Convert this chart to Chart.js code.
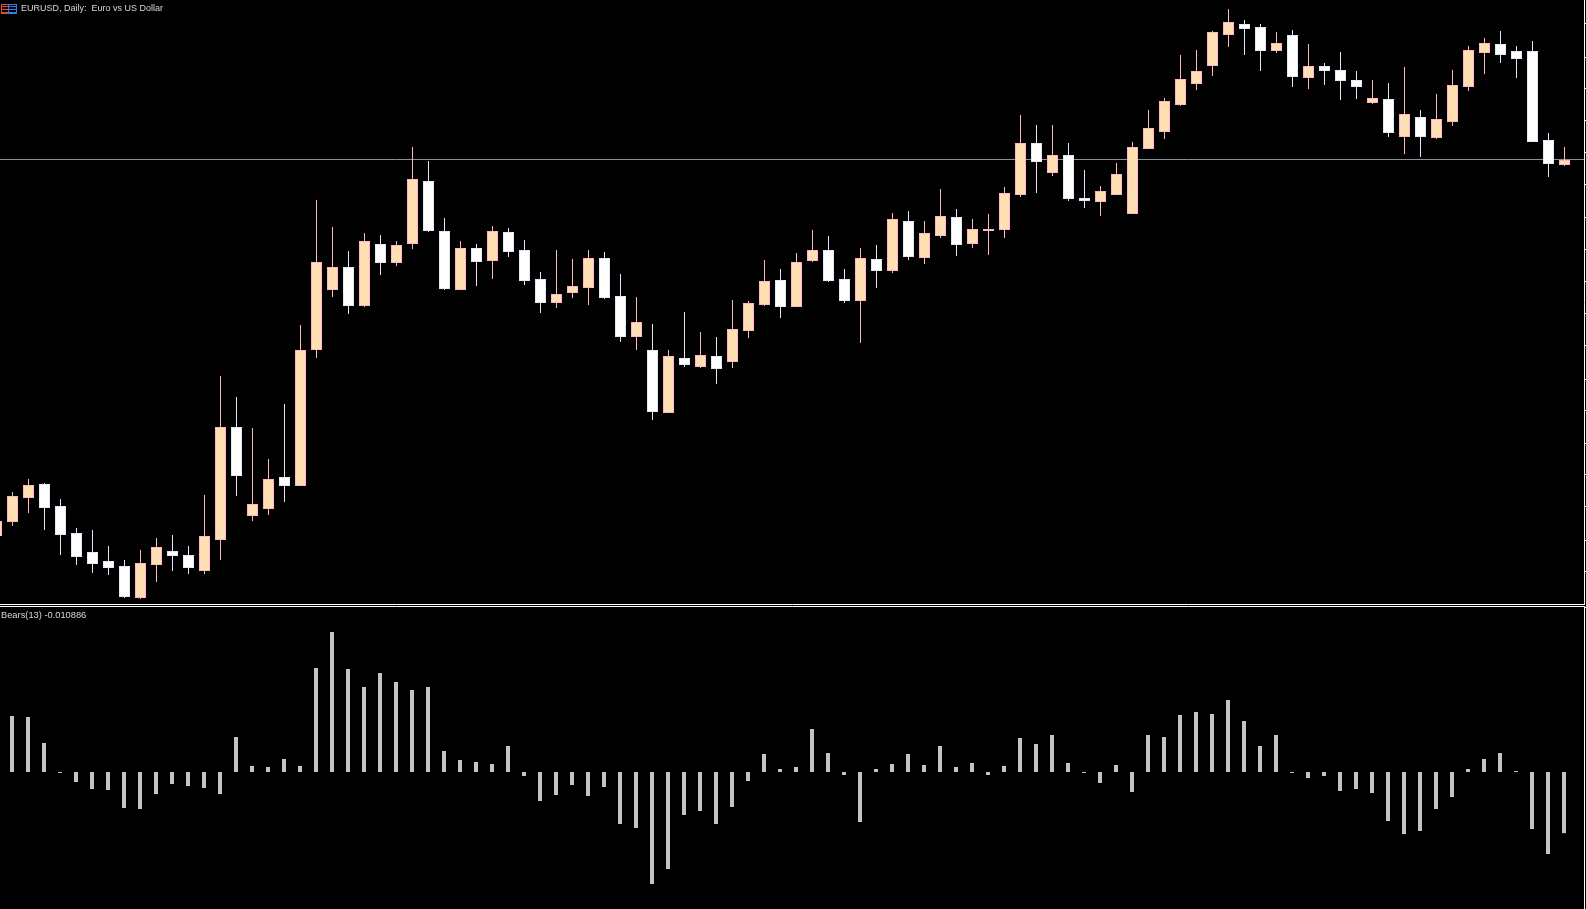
<!DOCTYPE html>
<html>
<head>
<meta charset="utf-8">
<title>EURUSD, Daily</title>
<script src="https://cdn.jsdelivr.net/npm/chart.js@4/dist/chart.umd.min.js"></script>
<style>
    html, body { margin: 0; padding: 0; background: #000; overflow: hidden; }
    canvas { position: absolute; left: 0; display: block; }
    #priceCanvas { top: 0; }
    #bearsCanvas { top: 605px; }
    .label { position: absolute; color: #d8d8d8; font-family: "Liberation Sans", sans-serif; white-space: pre; }
    #chartTitle { left: 21px; top: 3px; font-size: 9px; }
    #bearsTitle { left: 1px; top: 610px; font-size: 9.3px; }
    .icon { position: absolute; top: 4px; height: 8px; width: 6px; border: 1px solid; }
    #iconRed { left: 1px; border-color: #e0483c; background: repeating-linear-gradient(#000 0 1px, #e0483c 1px 2px, #000 2px 3px); }
    #iconBlue { left: 8px; width: 7px; border-color: #2f7fe8; background: repeating-linear-gradient(#000 0 1px, #2f7fe8 1px 2px, #000 2px 3px); }
</style>
</head>
<body>
<canvas id="priceCanvas" width="1586" height="605"></canvas>
<canvas id="bearsCanvas" width="1586" height="304"></canvas>
<span class="icon" id="iconRed"></span><span class="icon" id="iconBlue"></span>
<span class="label" id="chartTitle">EURUSD, Daily:  Euro vs US Dollar</span>
<span class="label" id="bearsTitle">Bears(13) -0.010886</span>

<script>
const opens = [1.1464,1.1478,1.1502,1.1516,1.1494,1.1467,1.1448,1.1439,1.1434,1.1402,
    1.1435,1.1449,1.1445,1.1429,1.1460,1.1573,1.1484,1.1491,1.1523,1.1514,
    1.1650,1.1710,1.1733,1.1694,1.1756,1.1737,1.1756,1.1819,1.1769,1.1710,
    1.1752,1.1739,1.1768,1.1750,1.1721,1.1697,1.1707,1.1712,1.1742,1.1704,
    1.1663,1.1650,1.1587,1.1642,1.1633,1.1644,1.1638,1.1669,1.1695,1.1720,
    1.1693,1.1739,1.1750,1.1721,1.1699,1.1741,1.1729,1.1779,1.1742,1.1764,
    1.1783,1.1756,1.1769,1.1770,1.1805,1.1857,1.1827,1.1845,1.1802,1.1798,
    1.1805,1.1786,1.1851,1.1868,1.1895,1.1916,1.1934,1.1965,1.1976,1.1973,
    1.1949,1.1965,1.1922,1.1934,1.1930,1.1920,1.1897,1.1901,1.1863,1.1883,
    1.1862,1.1878,1.1913,1.1947,1.1956,1.1949,1.1949,1.1860,1.1835]
const closes = [1.1479,1.1504,1.1515,1.1492,1.1465,1.1443,1.1436,1.1432,1.1403,1.1437,
    1.1453,1.1444,1.1432,1.1464,1.1573,1.1524,1.1496,1.1521,1.1514,1.1650,
    1.1738,1.1733,1.1694,1.1759,1.1737,1.1755,1.1821,1.1769,1.1711,1.1752,
    1.1738,1.1769,1.1748,1.1719,1.1697,1.1706,1.1714,1.1742,1.1702,1.1663,
    1.1678,1.1588,1.1644,1.1635,1.1645,1.1631,1.1671,1.1697,1.1719,1.1693,
    1.1738,1.1750,1.1719,1.1699,1.1742,1.1729,1.1781,1.1743,1.1767,1.1784,
    1.1755,1.1771,1.1771,1.1807,1.1857,1.1838,1.1845,1.1801,1.1799,1.1809,
    1.1826,1.1853,1.1872,1.1899,1.1921,1.1929,1.1968,1.1978,1.1971,1.1949,
    1.1957,1.1923,1.1934,1.1929,1.1919,1.1913,1.1902,1.1867,1.1886,1.1863,
    1.1881,1.1915,1.1950,1.1957,1.1945,1.1941,1.1858,1.1836,1.1840]
const highs = [1.1485,1.1508,1.1521,1.1517,1.1501,1.1472,1.1470,1.1454,1.1440,1.1450,
    1.1462,1.1465,1.1454,1.1505,1.1624,1.1603,1.1572,1.1541,1.1596,1.1675,
    1.1800,1.1773,1.1749,1.1767,1.1765,1.1759,1.1853,1.1839,1.1782,1.1759,
    1.1756,1.1774,1.1772,1.1760,1.1728,1.1750,1.1741,1.1750,1.1748,1.1726,
    1.1703,1.1676,1.1650,1.1688,1.1668,1.1663,1.1700,1.1699,1.1740,1.1731,
    1.1747,1.1770,1.1764,1.1731,1.1752,1.1755,1.1787,1.1789,1.1779,1.1811,
    1.1791,1.1781,1.1786,1.1813,1.1885,1.1875,1.1875,1.1857,1.1830,1.1814,
    1.1837,1.1858,1.1890,1.1902,1.1945,1.1950,1.1969,1.1991,1.1980,1.1976,
    1.1968,1.1970,1.1956,1.1937,1.1948,1.1929,1.1920,1.1917,1.1933,1.1890,
    1.1906,1.1930,1.1954,1.1962,1.1969,1.1954,1.1959,1.1867,1.1853]
const lows = [1.1460,1.1474,1.1487,1.1470,1.1445,1.1435,1.1427,1.1425,1.1402,1.1401,
    1.1418,1.1429,1.1426,1.1426,1.1440,1.1504,1.1479,1.1485,1.1498,1.1514,
    1.1642,1.1703,1.1686,1.1693,1.1725,1.1734,1.1751,1.1768,1.1710,1.1710,
    1.1714,1.1721,1.1743,1.1715,1.1687,1.1692,1.1702,1.1695,1.1701,1.1658,
    1.1650,1.1580,1.1587,1.1633,1.1632,1.1616,1.1632,1.1662,1.1694,1.1682,
    1.1693,1.1738,1.1718,1.1697,1.1657,1.1712,1.1727,1.1740,1.1736,1.1762,
    1.1744,1.1752,1.1745,1.1762,1.1803,1.1807,1.1824,1.1799,1.1792,1.1784,
    1.1805,1.1786,1.1851,1.1861,1.1894,1.1910,1.1924,1.1953,1.1945,1.1929,
    1.1947,1.1913,1.1911,1.1915,1.1900,1.1901,1.1896,1.1863,1.1846,1.1843,
    1.1861,1.1874,1.1909,1.1926,1.1937,1.1922,1.1858,1.1823,1.1834]
const bearsValues = [null,0.009968,0.00979,0.005162,-0.000178,-0.00178,-0.003026,-0.003204,-0.006408,-0.006586,
    -0.003916,-0.002136,-0.002492,-0.002848,-0.003916,0.00623,0.001068,0.00089,0.002314,0.001068,
    0.018512,0.02492,0.018334,0.01513,0.017622,0.01602,0.014596,0.01513,0.003738,0.002136,
    0.00178,0.001424,0.004628,-0.000712,-0.005162,-0.004094,-0.002314,-0.004272,-0.00267,-0.009256,
    -0.009968,-0.019936,-0.017266,-0.007654,-0.006942,-0.009256,-0.00623,-0.001602,0.003204,0.000534,
    0.00089,0.007654,0.003382,-0.000534,-0.0089,0.000534,0.001424,0.003204,0.001246,0.004628,
    0.00089,0.001602,-0.000534,0.001068,0.006052,0.004984,0.006586,0.001602,-0.000178,-0.001958,
    0.001246,-0.00356,0.006586,0.00623,0.010146,0.01068,0.010324,0.012816,0.009078,0.004628,
    0.006586,-0.000178,-0.001068,-0.000712,-0.003382,-0.003026,-0.003738,-0.008722,-0.011036,-0.010502,
    -0.006586,-0.00445,0.000534,0.002314,0.003382,0.000178,-0.010146,-0.014596,-0.010886]

const priceTicks = [1.1976,1.1943,1.1911,1.1879,1.1847,1.1815,1.1783,1.1750,1.1718,1.1686,1.1654,1.1621,1.1589,1.1557,1.1525,1.1493,1.1460,1.1428]
const bearsTicks = [0.02937]
const currentPrice = 1.18405

const priceMin = 1.1396
const priceMax = 1.2
const bearsMin = -0.024386
const bearsMax = 0.029548

const upFill = '#FFE0B5'
const upEdge = '#FFB6C1'
const downFill = '#FFFFFF'
const downEdge = '#E6E6FA'

function isUp(i) {
    return closes[i] >= opens[i]
}

function buildAxes(xMin, xMax, xPosition, yMin, yMax, yTicks) {
    return {
        x: {
            type: 'linear',
            position: xPosition,
            offset: false,
            min: xMin,
            max: xMax,
            ticks: { display: false },
            grid: { display: false },
            border: { color: '#fff', width: 1 },
            afterFit: function (scale) { scale.height = 1 }
        },
        y: {
            type: 'linear',
            position: 'right',
            min: yMin,
            max: yMax,
            ticks: { display: false },
            grid: { drawOnChartArea: false, tickLength: 2, color: '#fff' },
            border: { color: '#fff', width: 1 },
            afterBuildTicks: function (scale) {
                scale.ticks = yTicks.map(v => ({ value: v }))
            },
            afterFit: function (scale) { scale.width = 2 }
        }
    }
}

const sharedOptions = {
    responsive: false,
    animation: false,
    devicePixelRatio: 1,
    layout: { padding: 0 },
    plugins: { legend: { display: false }, tooltip: { enabled: false } }
}

// candle centres sit at -3.5 + 16 * i pixels
new Chart(document.getElementById('priceCanvas'), {
    type: 'bar',
    data: {
        datasets: [
            {
                label: 'body',
                order: 1,
                grouped: false,
                barThickness: 11,
                inflateAmount: 0,
                borderWidth: 1,
                borderSkipped: false,
                minBarLength: 2,
                backgroundColor: opens.map((o, i) => isUp(i) ? upFill : downFill),
                borderColor: opens.map((o, i) => isUp(i) ? upEdge : downEdge),
                data: opens.map((o, i) => ({ x: i, y: [o, closes[i]] }))
            },
            {
                label: 'wick',
                order: 2,
                grouped: false,
                barThickness: 1,
                inflateAmount: 0,
                borderWidth: 0,
                backgroundColor: opens.map((o, i) => isUp(i) ? upEdge : downEdge),
                data: highs.map((h, i) => ({ x: i, y: [lows[i], h] }))
            },
            {
                type: 'line',
                label: 'price line',
                order: 3,
                borderColor: '#8a919e',
                borderWidth: 1,
                pointRadius: 0,
                data: [{ x: 0, y: currentPrice }, { x: 100, y: currentPrice }]
            }
        ]
    },
    options: {
        ...sharedOptions,
        scales: buildAxes(0.21875, 99.21875, 'bottom', priceMin, priceMax, priceTicks)
    }
})

new Chart(document.getElementById('bearsCanvas'), {
    type: 'bar',
    data: {
        datasets: [{
            label: 'Bears(13)',
            barThickness: 4,
            inflateAmount: 0,
            borderWidth: 0,
            backgroundColor: '#C4C4C4',
            data: bearsValues.map((v, i) => ({ x: i, y: v }))
        }]
    },
    options: {
        ...sharedOptions,
        scales: buildAxes(0.25, 99.25, 'top', bearsMin, bearsMax, bearsTicks)
    }
})
</script>
</body>
</html>
